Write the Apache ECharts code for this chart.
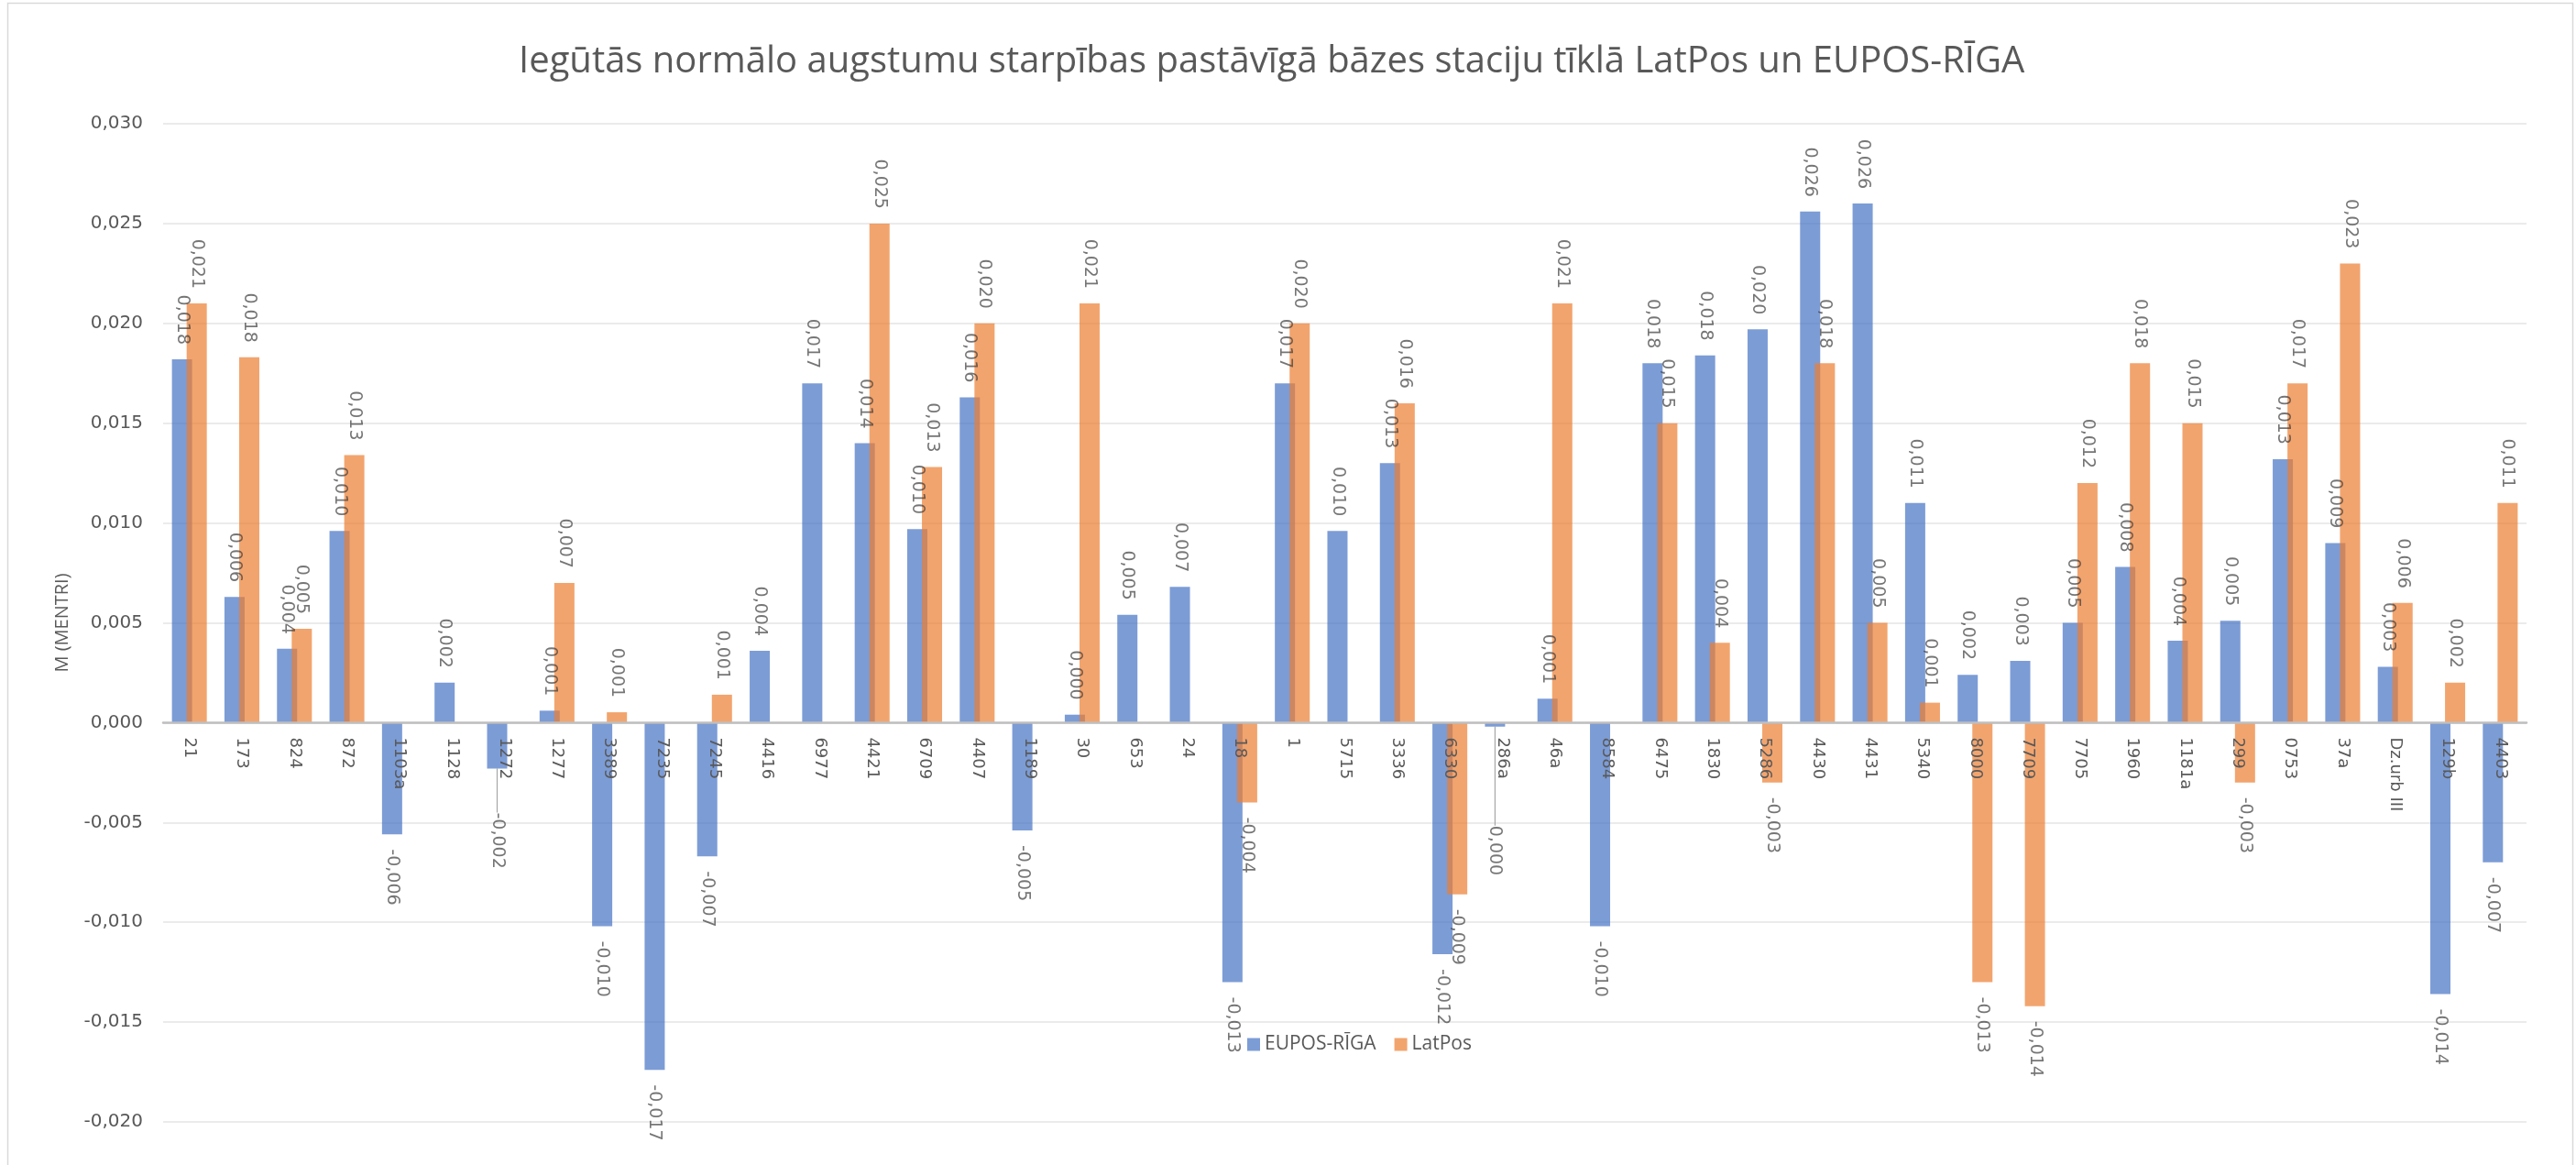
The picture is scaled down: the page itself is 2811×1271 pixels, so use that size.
<!DOCTYPE html>
<html>
<head>
<meta charset="utf-8">
<script src="https://cdn.jsdelivr.net/npm/echarts@6/dist/echarts.min.js"></script>
<style>
html,body{margin:0;padding:0;background:#fff;}
#chart{width:2811px;height:1271px;}
</style>
</head>
<body>
<div id="chart"></div>
<script>
const titleText = 'Iegūtās normālo augstumu starpības pastāvīgā bāzes staciju tīklā LatPos un EUPOS-RĪGA';
const yAxisName = 'M (MENTRI)';
const seriesNames = ['EUPOS-RĪGA', 'LatPos'];

const categories = ['21','173','824','872','1103a','1128','1272','1277','3389','7235','7245','4416','6977','4421','6709','4407','1189','30','653','24','18','1','5715','3336','6330','286a','46a','8584','6475','1830','5286','4430','4431','5340','8000','7709','7705','1960','1181a','299','0753','37a','Dz.urb III','129b','4403'];

const euposValues = [0.0182,0.0063,0.0037,0.0096,-0.0056,0.0020,-0.0023,0.0006,-0.0102,-0.0174,-0.0067,0.0036,0.0170,0.0140,0.0097,0.0163,-0.0054,0.0004,0.0054,0.0068,-0.0130,0.0170,0.0096,0.0130,-0.0116,-0.0002,0.0012,-0.0102,0.0180,0.0184,0.0197,0.0256,0.0260,0.0110,0.0024,0.0031,0.0050,0.0078,0.0041,0.0051,0.0132,0.0090,0.0028,-0.0136,-0.0070];

const latposValues = [0.0210,0.0183,0.0047,0.0134,null,null,null,0.0070,0.00052,null,0.0014,null,null,0.0250,0.0128,0.0200,null,0.0210,null,null,-0.0040,0.0200,null,0.0160,-0.0086,null,0.0210,null,0.0150,0.0040,-0.0030,0.0180,0.0050,0.0010,-0.0130,-0.0142,0.0120,0.0180,0.0150,-0.0030,0.0170,0.0230,0.0060,0.0020,0.0110];

// labels moved away with a leader line (EUPOS-RĪGA series): category -> extra drop in px
const movedLabels = { '1272': 32, '286a': 92 };

const Y_MIN = -0.02, Y_MAX = 0.03, Y_STEP = 0.005;
const GRID = { left: 178, right: 54, top: 135, bottom: 47 };
const CHART_H = 1271;

function fmt(v){
  if (Math.abs(v) < 0.0005) v = 0;
  return v.toFixed(3).replace('.', ',');
}

function buildData(vals, withLines){
  return vals.map((v, i) => {
    if (v === null) return '-';
    const item = { value: v };
    if (v < 0) item.label = { position: 'bottom', align: 'left' };
    if (withLines && movedLabels[categories[i]] !== undefined) {
      item.labelLine = { show: true };
    }
    return item;
  });
}

// distance (px) from bottom of plot to the zero line, so category labels sit at zero like Excel
const plotH = CHART_H - GRID.top - GRID.bottom;
const zeroOffset = plotH * (0 - Y_MIN) / (Y_MAX - Y_MIN);

const chart = echarts.init(document.getElementById('chart'), null, {renderer: 'canvas'});

const labelBase = {
  show: true,
  position: 'top',
  rotate: -90,
  align: 'right',
  verticalAlign: 'middle',
  distance: 16,
  fontFamily: 'DejaVu Sans',
  fontSize: 19,
  color: '#3a3a3a',
  formatter: p => fmt(p.value)
};

const option = {
  backgroundColor: '#ffffff',
  animation: false,
  title: {
    text: titleText,
    left: 561,
    top: 43,
    textStyle: { fontFamily: 'Open Sans', fontSize: 40, fontWeight: 'normal', color: '#595959' }
  },
  graphic: [{
    type: 'rect',
    shape: { x: 8.5, y: 3.5, width: 2799, height: 1300 },
    style: { fill: 'none', stroke: '#D9D9D9', lineWidth: 1.5 },
    silent: true
  }],
  legend: {
    data: seriesNames,
    left: 1356,
    top: 1124,
    itemWidth: 14,
    itemHeight: 14,
    itemGap: 20,
    icon: 'rect',
    textStyle: { fontFamily: 'Open Sans', fontSize: 21, color: '#595959' }
  },
  grid: { left: GRID.left, right: GRID.right, top: GRID.top, bottom: GRID.bottom, containLabel: false, outerBoundsMode: 'none' },
  xAxis: {
    type: 'category',
    data: categories,
    z: 5,
    offset: -zeroOffset,
    axisLine: { onZero: false, lineStyle: { color: '#BFBFBF', width: 2.5 } },
    axisTick: { show: false },
    axisLabel: {
      rotate: -90,
      margin: 16,
      interval: 0,
      fontFamily: 'DejaVu Sans',
      fontSize: 18,
      color: '#595959'
    },
    splitLine: { show: false }
  },
  yAxis: {
    type: 'value',
    min: Y_MIN,
    max: Y_MAX,
    interval: Y_STEP,
    name: yAxisName,
    nameLocation: 'middle',
    nameRotate: 90,
    nameGap: 100,
    nameTextStyle: { fontFamily: 'Open Sans', fontSize: 20, color: '#595959' },
    axisLine: { show: false },
    axisTick: { show: false },
    axisLabel: {
      margin: 22,
      fontFamily: 'DejaVu Sans',
      fontSize: 20,
      color: '#595959',
      formatter: v => fmt(v)
    },
    splitLine: { lineStyle: { color: '#EBEBEB', width: 2 } }
  },
  series: [
    {
      name: seriesNames[0],
      type: 'bar',
      barWidth: 22,
      barGap: '-27%',
      itemStyle: { color: '#4472C4', opacity: 0.7 },
      label: labelBase,
      labelLine: { show: false, lineStyle: { color: '#A6A6A6', width: 1.2 } },
      labelLayout: function (p) {
        const c = categories[p.dataIndex];
        if (movedLabels[c] !== undefined) return { dx: movedLabels[c] };
        return {};
      },
      data: buildData(euposValues, true)
    },
    {
      name: seriesNames[1],
      type: 'bar',
      barWidth: 22,
      barGap: '-27%',
      itemStyle: { color: '#ED7D31', opacity: 0.7 },
      label: labelBase,
      data: buildData(latposValues, false)
    }
  ]
};

chart.setOption(option);
</script>
</body>
</html>
